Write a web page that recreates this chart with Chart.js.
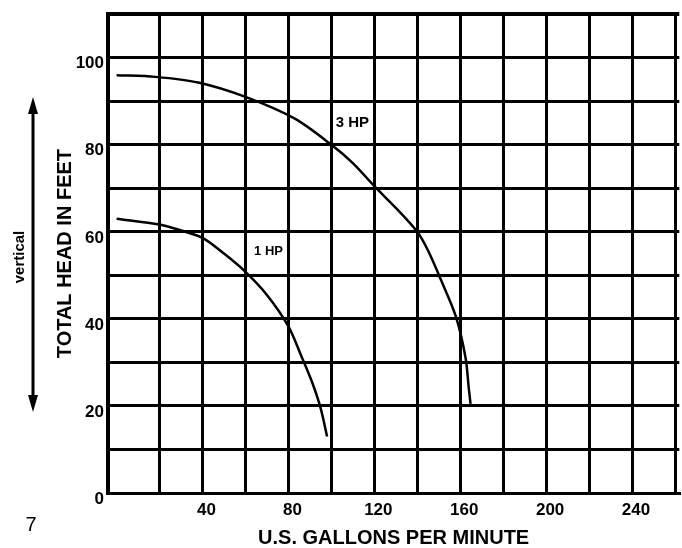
<!DOCTYPE html>
<html>
<head>
<meta charset="utf-8">
<script src="https://cdn.jsdelivr.net/npm/chart.js@4.4.1/dist/chart.umd.min.js"></script>
<style>
  html, body { margin: 0; padding: 0; background: #fff; }
  #wrap { width: 682px; height: 548px; position: relative; }
</style>
</head>
<body>
<div id="wrap"><canvas id="c" width="682" height="548"></canvas></div>
<script>
// ---- data ----
const xGridValues = [20, 40, 60, 80, 100, 120, 140, 160, 180, 200, 220, 240, 260];
const xTickLabels = [40, 80, 120, 160, 200, 240];
const yGridValues = [0, 10, 20, 30, 40, 50, 60, 70, 80, 90, 100, 110];
const yTickLabels = [0, 20, 40, 60, 80, 100];

const flow3hp = [0, 18, 38, 60, 83, 100, 110, 120, 130, 140, 145, 151, 158, 162.5, 164, 164.8];
const head3hp = [96, 95.6, 94.3, 91, 86, 80, 75.8, 70.5, 65.5, 60, 55.7, 49, 40.5, 31, 24, 20.5];

const flow1hp = [0, 20, 30, 40, 50, 60, 70, 80, 86, 91, 95, 98];
const head1hp = [63, 61.7, 60.3, 58.6, 55, 50.8, 45.5, 38.3, 31.5, 25.5, 19.5, 13];

const curveLabels = [
  { text: '3 HP', x: 102, y: 85, size: 15 },
  { text: '1 HP', x: 64, y: 55.5, size: 13 }
];

const xTitle = 'U.S. GALLONS PER MINUTE';
const yTitle = 'TOTAL HEAD IN FEET';
const sideNote = 'vertical';
const pageNumber = '7';

const FONT = "'Liberation Sans', Arial, sans-serif";

function toPoints(xs, ys) { return xs.map((x, i) => ({ x: x, y: ys[i] })); }

const annotations = {
  id: 'annotations',
  afterDraw(chart) {
    const { ctx, scales: { x, y } } = chart;
    ctx.save();
    ctx.fillStyle = '#000';
    ctx.strokeStyle = '#000';
    // curve labels
    curveLabels.forEach(l => {
      ctx.font = 'bold ' + l.size + 'px ' + FONT;
      ctx.textAlign = 'left';
      ctx.textBaseline = 'middle';
      ctx.fillText(l.text, x.getPixelForValue(l.x), y.getPixelForValue(l.y));
    });
    // double-headed arrow
    const ax = 33, top = 97, bot = 412;
    ctx.lineWidth = 3;
    ctx.beginPath();
    ctx.moveTo(ax, top + 12);
    ctx.lineTo(ax, bot - 12);
    ctx.stroke();
    ctx.beginPath();
    ctx.moveTo(ax, top); ctx.lineTo(ax - 5, top + 17); ctx.lineTo(ax + 5, top + 17); ctx.closePath(); ctx.fill();
    ctx.beginPath();
    ctx.moveTo(ax, bot); ctx.lineTo(ax - 5, bot - 17); ctx.lineTo(ax + 5, bot - 17); ctx.closePath(); ctx.fill();
    // "vertical"
    ctx.save();
    ctx.translate(20, 257);
    ctx.rotate(-Math.PI / 2);
    ctx.font = 'bold 15px ' + FONT;
    ctx.textAlign = 'center';
    ctx.textBaseline = 'middle';
    ctx.fillText(sideNote, 0, 0);
    ctx.restore();
    // page number
    ctx.font = '20px ' + FONT;
    ctx.textAlign = 'center';
    ctx.textBaseline = 'middle';
    ctx.fillText(pageNumber, 31, 525);
    ctx.restore();
  }
};

new Chart(document.getElementById('c'), {
  type: 'line',
  data: {
    datasets: [
      {
        label: '3 HP',
        data: toPoints(flow3hp, head3hp),
        borderColor: '#000',
        borderWidth: 2.5,
        pointRadius: 0,
        fill: false,
        tension: 0.3
      },
      {
        label: '1 HP',
        data: toPoints(flow1hp, head1hp),
        borderColor: '#000',
        borderWidth: 2.5,
        pointRadius: 0,
        fill: false,
        tension: 0.3
      }
    ]
  },
  options: {
    responsive: false,
    animation: false,
    devicePixelRatio: 1,
    layout: { padding: { left: 0, top: 13, right: 0, bottom: 0 } },
    plugins: { legend: { display: false }, tooltip: { enabled: false } },
    scales: {
      x: {
        type: 'linear',
        min: -4,
        max: 262,
        afterBuildTicks: s => { s.ticks = xGridValues.map(v => ({ value: v })); },
        afterFit: s => { s.height = 55; },
        grid: { color: '#000', lineWidth: 3, drawTicks: false },
        border: { color: '#000', width: 3 },
        ticks: {
          autoSkip: false,
          maxRotation: 0,
          color: '#000',
          padding: 7,
          labelOffset: 4,
          font: { family: FONT, size: 17, weight: 'bold' },
          callback: v => xTickLabels.includes(v) ? String(v) : ''
        },
        title: {
          display: true,
          text: xTitle,
          color: '#000',
          font: { family: FONT, size: 20, weight: 'bold', lineHeight: 1 },
          padding: { top: 0, bottom: 0 }
        }
      },
      y: {
        type: 'linear',
        min: 0,
        max: 110,
        afterBuildTicks: s => { s.ticks = yGridValues.map(v => ({ value: v })); },
        afterFit: s => { s.width = 108; },
        grid: { color: '#000', lineWidth: c => (c.tick && c.tick.value === 110) ? 4 : 3, drawTicks: false },
        border: { color: '#000', width: 4 },
        ticks: {
          autoSkip: false,
          color: '#000',
          padding: 4,
          labelOffset: 6,
          font: { family: FONT, size: 17, weight: 'bold' },
          callback: v => yTickLabels.includes(v) ? String(v) : ''
        },
        title: {
          display: true,
          text: yTitle,
          color: '#000',
          font: { family: FONT, size: 20, weight: 'bold', lineHeight: 1 },
          padding: { top: 55, bottom: 0 }
        }
      }
    }
  },
  plugins: [annotations]
});
</script>
</body>
</html>
